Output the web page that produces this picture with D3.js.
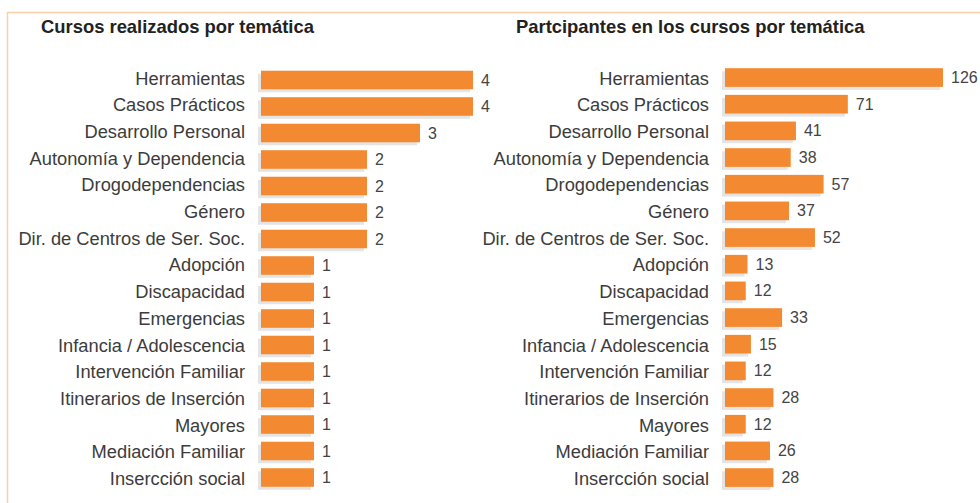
<!DOCTYPE html>
<html>
<head>
<meta charset="utf-8">
<script src="https://cdn.jsdelivr.net/npm/d3@7"></script>
<style>
  body { margin: 0; background: #fff; }
  svg { display: block; font-family: "Liberation Sans", Arial, sans-serif; }
</style>
</head>
<body>
<div id="chart"></div>
<script>
// categorias (mismas en los dos graficos)
const tematicas = ["Herramientas", "Casos Prácticos", "Desarrollo Personal", "Autonomía y Dependencia",
  "Drogodependencias", "Género", "Dir. de Centros de Ser. Soc.", "Adopción", "Discapacidad",
  "Emergencias", "Infancia / Adolescencia", "Intervención Familiar", "Itinerarios de Inserción",
  "Mayores", "Mediación Familiar", "Inserccion social"];
const cursos = [4, 4, 3, 2, 2, 2, 2, 1, 1, 1, 1, 1, 1, 1, 1, 1];
const participantes = [126, 71, 41, 38, 57, 37, 52, 13, 12, 33, 15, 12, 28, 12, 26, 28];

const width = 980, height = 503;
const svg = d3.select("#chart").append("svg")
    .attr("width", width)
    .attr("height", height);

// marco naranja
svg.append("path")
    .attr("d", "M7.5,503 L7.5,12.5 L980,12.5")
    .attr("fill", "none")
    .attr("stroke", "#fbcfa8")
    .attr("stroke-width", 1.5);

function hbar(cfg) {
    const y = d3.scaleBand()
        .domain(tematicas)
        .range(cfg.yRange)
        .paddingInner(0.3)
        .paddingOuter(0.15);
    const x = d3.scaleLinear()
        .domain([0, cfg.maxV])
        .range([cfg.barX, cfg.barX + cfg.barW]);
    const data = tematicas.map((t, i) => ({ label: t, value: cfg.values[i] }));

    const g = svg.append("g");

    g.append("text")
        .attr("x", cfg.titleX)
        .attr("y", 33)
        .attr("font-size", "18.4px")
        .attr("font-weight", "bold")
        .attr("fill", "#222")
        .text(cfg.title);

    // sombra
    g.selectAll(".shadow")
        .data(data)
        .enter().append("rect")
        .attr("class", "shadow")
        .attr("x", x(0) - 3)
        .attr("y", d => y(d.label) + 3)
        .attr("width", d => x(d.value) - x(0))
        .attr("height", y.bandwidth())
        .attr("fill", "#e4e4e4");

    g.selectAll(".bar")
        .data(data)
        .enter().append("rect")
        .attr("class", "bar")
        .attr("x", x(0))
        .attr("y", d => y(d.label))
        .attr("width", d => x(d.value) - x(0))
        .attr("height", y.bandwidth())
        .attr("fill", "#f38a31");

    // etiquetas (linea base propia)
    const yl = d3.scaleBand()
        .domain(tematicas)
        .range([84.5 - 13.35, 84.5 - 13.35 + 16 * 26.7]);
    g.selectAll(".lbl")
        .data(data)
        .enter().append("text")
        .attr("class", "lbl")
        .attr("x", cfg.labelX)
        .attr("y", d => yl(d.label) + yl.bandwidth() / 2)
        .attr("text-anchor", "end")
        .attr("font-size", "18.3px")
        .attr("fill", "#3c3c3c")
        .text(d => d.label === "Inserccion social" ? "Inserccion social".replace("cion", "ción") : d.label);

    g.selectAll(".txthint")
        .data(data)
        .enter().append("text")
        .attr("class", "txthint")
        .attr("x", d => x(d.value) + 8)
        .attr("y", d => y(d.label) + y.bandwidth() / 2)
        .attr("dy", "0.35em")
        .attr("font-size", "16px")
        .attr("fill", "#444")
        .text(d => d.value);
}

hbar({ labelX: 245, barX: 261, barW: 212, maxV: 4, values: cursos,
       yRange: [66.75, 490.75], title: "Cursos realizados por temática", titleX: 41 });
hbar({ labelX: 709, barX: 725, barW: 218, maxV: 126, values: participantes,
       yRange: [64.2, 490.9], title: "Partcipantes en los cursos por temática", titleX: 516 });
</script>
</body>
</html>
